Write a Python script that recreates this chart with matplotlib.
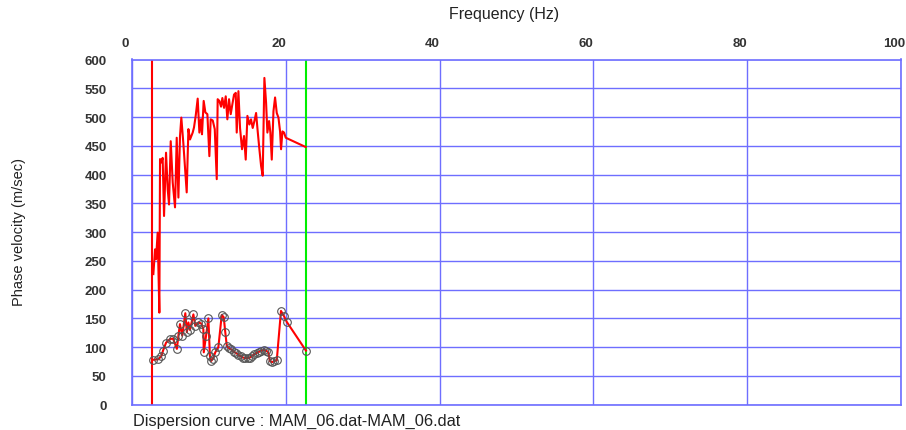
import matplotlib
matplotlib.use("Agg")
import matplotlib.pyplot as plt
import matplotlib.transforms as mtransforms

plt.rcParams['font.family'] = ['Liberation Sans', 'DejaVu Sans']

# ---- data ----
upper_freq = [2.74, 2.96, 3.09, 3.30, 3.52, 3.61, 3.78, 3.95, 4.13, 4.39, 4.61, 4.78,
              5.00, 5.26, 5.56, 5.78, 6.00, 6.21, 6.38, 6.64, 7.08, 7.30, 7.51, 7.86,
              8.03, 8.25, 8.51, 8.73, 8.94, 9.07, 9.29, 9.51, 9.77, 10.03, 10.20, 10.47,
              10.73, 10.99, 11.11, 11.33, 11.55, 11.72, 11.94, 12.16, 12.37, 12.59, 12.81,
              13.02, 13.24, 13.46, 13.59, 13.81, 14.02, 14.28, 14.54, 14.76, 14.98, 15.24,
              15.45, 15.67, 15.89, 16.11, 16.32, 16.54, 16.76, 16.97, 17.19, 17.41, 17.58,
              17.80, 17.97, 18.15, 18.37, 18.58, 18.80, 19.02, 19.23, 19.36, 19.54, 19.75,
              19.97, 22.55]
upper_vel = [227, 270, 253, 299, 160, 427, 421, 429, 328, 438, 374, 348,
             458, 386, 343, 464, 360, 467, 499, 455, 369, 479, 461, 473,
             482, 502, 532, 473, 496, 470, 528, 508, 505, 432, 496, 494,
             479, 392, 531, 528, 518, 533, 516, 536, 496, 531, 505,
             522, 539, 542, 473, 545, 481, 444, 467, 426, 502, 487,
             496, 481, 493, 507, 475, 444, 415, 398, 568, 525, 473,
             493, 473, 426, 510, 534, 507, 499, 475, 444, 475, 473,
             464, 448]

lower_freq = [2.70, 3.40, 3.80, 4.00, 4.40, 4.90, 5.30, 5.80, 6.00, 6.20, 6.50, 6.90,
              7.10, 7.30, 7.50, 7.95, 8.20, 8.60, 9.00, 9.25, 9.30, 9.60, 9.90, 10.10,
              10.25, 10.50, 10.80, 11.20, 11.64, 11.90, 12.10, 12.30, 12.60, 12.90, 13.20,
              13.50, 13.80, 14.10, 14.40, 14.70, 15.00, 15.30, 15.60, 15.90, 16.20, 16.50,
              16.80, 17.10, 17.40, 17.70, 17.90, 18.20, 18.50, 18.80, 19.35, 19.70, 20.10,
              22.60]
lower_vel = [78, 79, 85, 94, 108, 114, 115, 97, 120, 140, 120, 159,
             126, 143, 130, 157, 137, 143, 141, 131, 91, 120, 150, 85,
             76, 80, 91, 100, 156, 152, 126, 102, 98, 96, 92,
             90, 87, 84, 82, 81, 81, 82, 85, 88, 90, 92,
             94, 95, 94, 91, 76, 74, 76, 77, 163, 155, 144,
             94]

red_marker_freq = 2.56
green_marker_freq = 22.6

x_ticks = [0, 20, 40, 60, 80, 100]
y_ticks = [0, 50, 100, 150, 200, 250, 300, 350, 400, 450, 500, 550, 600]

# ---- figure ----
W, H = 906, 431
fig = plt.figure(figsize=(W / 100, H / 100), dpi=100)
left, right, top, bottom = 132.3, 900.7, 60.5, 405.7
ax = fig.add_axes([left / W, 1 - bottom / H, (right - left) / W, (bottom - top) / H])

grid_col = '#6e6eff'
ax.set_xlim(0, 100)
ax.set_ylim(0, 600)
ax.set_xticks(x_ticks)
ax.set_yticks(y_ticks)
ax.xaxis.tick_top()
ax.grid(True, color=grid_col, linewidth=1.0)
ax.set_axisbelow(True)
for s in ax.spines.values():
    s.set_color(grid_col)
    s.set_linewidth(1.2)
ax.tick_params(axis='x', length=0, pad=7.5, labelsize=9.5, labelcolor='#333333')
ax.tick_params(axis='y', length=0, pad=18.5, labelsize=9.5, labelcolor='#333333')
for lab in ax.get_xticklabels():
    lab.set_fontweight('bold')
    lab.set_transform(lab.get_transform() + mtransforms.ScaledTranslation(-7 / 100, 0, fig.dpi_scale_trans))
for lab in ax.get_yticklabels():
    lab.set_fontweight('bold')

ax.axvline(red_marker_freq, color='#ff0000', linewidth=1.5)
ax.axvline(green_marker_freq, color='#00ee00', linewidth=1.5)

ax.plot(upper_freq, upper_vel, color='#ff0000', linewidth=1.5)
ax.plot(lower_freq, lower_vel, color='#ff0000', linewidth=1.5,
        marker='o', markersize=5.5, markerfacecolor='none',
        markeredgecolor='#555555', markeredgewidth=0.8)

fig.text(504 / W, 1 - 14 / H, 'Frequency (Hz)', ha='center', va='center',
         fontsize=11.5, color='#222222')
fig.text(19 / W, 1 - 232 / H, 'Phase velocity (m/sec)', ha='center', va='center',
         rotation=90, fontsize=10.5, color='#222222')
fig.text(133 / W, 1 - 421.5 / H, 'Dispersion curve : MAM_06.dat-MAM_06.dat',
         ha='left', va='center', fontsize=11.8, color='#222222')

fig.savefig('out.png', dpi=100)
